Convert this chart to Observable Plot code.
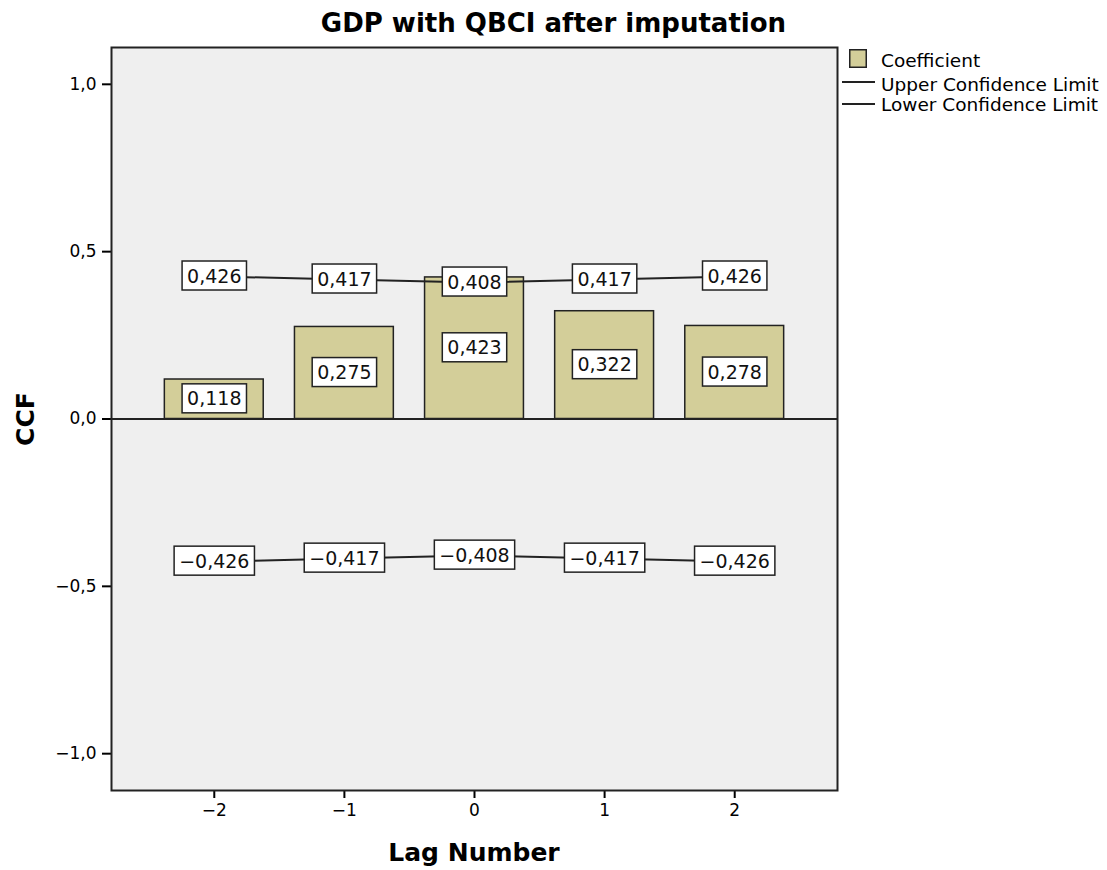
<!DOCTYPE html>
<html>
<head>
<meta charset="utf-8">
<script src="https://cdn.jsdelivr.net/npm/d3@7"></script>
<script src="https://cdn.jsdelivr.net/npm/@observablehq/plot@0.6"></script>
<style>
  body { margin: 0; background: #fff; }
  #wrap { position: relative; width: 1107px; height: 870px; font-family: "DejaVu Sans", sans-serif; color: #000; }
  #wrap > svg.chart { position: absolute; left: 0; top: 0; }
  .title { position: absolute; left: 0; top: 10px; width: 1107px; text-align: center; font-weight: bold; font-size: 26px; line-height: 26px; white-space: nowrap; }
  .ytitle { position: absolute; left: 25px; top: 419px; transform: translate(-50%, -50%) rotate(-90deg); font-weight: bold; font-size: 25px; line-height: 25px; white-space: nowrap; }
  .xtitle { position: absolute; left: 474px; top: 840px; transform: translateX(-50%); font-weight: bold; font-size: 25px; line-height: 25px; white-space: nowrap; }
  svg.legend { position: absolute; left: 0; top: 0; pointer-events: none; }
</style>
</head>
<body>
<div id="wrap"></div>
<script>
// ---- data ----
const lags = [-2, -1, 0, 1, 2];
const coefficient = [0.118, 0.275, 0.423, 0.322, 0.278];
const upperLimit = [0.426, 0.417, 0.408, 0.417, 0.426];
const lowerLimit = [-0.426, -0.417, -0.408, -0.417, -0.426];
const yTicks = [-1, -0.5, 0, 0.5, 1];
const xTicks = [-2, -1, 0, 1, 2];
const titleText = "GDP with QBCI after imputation";
const xTitle = "Lag Number";
const yTitle = "CCF";
const legendLabels = ["Coefficient", "Upper Confidence Limit", "Lower Confidence Limit"];

// ---- helpers ----
const fmtDec = (v, n) => v.toFixed(n).replace(".", ",").replace("-", "\u2212");
const fmtInt = v => String(v).replace("-", "\u2212");

const bars = lags.map((lag, i) => ({lag, value: coefficient[i]}));
const upper = lags.map((lag, i) => ({lag, value: upperLimit[i]}));
const lower = lags.map((lag, i) => ({lag, value: lowerLimit[i]}));
const labels = [
  ...upper.map(d => ({lag: d.lag, y: d.value, text: fmtDec(d.value, 3)})),
  ...bars.map(d => ({lag: d.lag, y: d.value / 2, text: fmtDec(d.value, 3)})),
  ...lower.map(d => ({lag: d.lag, y: d.value, text: fmtDec(d.value, 3)}))
];

const barHalf = 0.38;
const ink = "#222";

const wrap = document.getElementById("wrap");

const chart = Plot.plot({
  width: 1107,
  height: 870,
  marginLeft: 111,
  marginRight: 270,
  marginTop: 47,
  marginBottom: 80,
  style: {fontFamily: '"DejaVu Sans", sans-serif', fontSize: "17px", color: "#000", background: "transparent", overflow: "visible"},
  x: {domain: [-2.79, 2.79], ticks: xTicks, tickFormat: fmtInt, tickSize: 8, tickPadding: 5, label: null},
  y: {domain: [-1.11, 1.11], ticks: yTicks, tickFormat: v => fmtDec(v, 1), tickSize: 9, tickPadding: 6, label: null},
  marks: [
    Plot.frame({fill: "#efefef"}),
    Plot.rectY(bars, {x1: d => d.lag - barHalf, x2: d => d.lag + barHalf, y: "value", fill: "#d3ce99", stroke: ink, strokeWidth: 1.5}),
    Plot.ruleY([0], {stroke: ink, strokeWidth: 2}),
    Plot.line(upper, {x: "lag", y: "value", stroke: ink, strokeWidth: 2}),
    Plot.line(lower, {x: "lag", y: "value", stroke: ink, strokeWidth: 2}),
    Plot.text(labels, {x: "lag", y: "y", text: "text", fontSize: 19, fill: "#111"}),
    Plot.frame({stroke: ink, strokeWidth: 2})
  ]
});
chart.classList.add("chart");
wrap.appendChild(chart);

// thicker axis ticks
chart.querySelectorAll('g[aria-label$="tick"]').forEach(g => g.setAttribute("stroke-width", 2));

// label boxes behind the value labels
chart.querySelectorAll('g[aria-label="text"] text').forEach(t => {
  const b = t.getBBox();
  const r = document.createElementNS("http://www.w3.org/2000/svg", "rect");
  const padX = 5, padY = 3.5;
  r.setAttribute("x", b.x - padX);
  r.setAttribute("y", b.y - padY);
  r.setAttribute("width", b.width + 2 * padX);
  r.setAttribute("height", b.height + 2 * padY);
  r.setAttribute("fill", "#fff");
  r.setAttribute("stroke", ink);
  r.setAttribute("stroke-width", 1.5);
  const tr = t.getAttribute("transform");
  if (tr) r.setAttribute("transform", tr);
  t.parentNode.insertBefore(r, t);
});

// titles
const tt = document.createElement("div"); tt.className = "title"; tt.textContent = titleText; wrap.appendChild(tt);
const yt = document.createElement("div"); yt.className = "ytitle"; yt.textContent = yTitle; wrap.appendChild(yt);
const xt = document.createElement("div"); xt.className = "xtitle"; xt.textContent = xTitle; wrap.appendChild(xt);

// legend
const NS = "http://www.w3.org/2000/svg";
const lg = document.createElementNS(NS, "svg");
lg.setAttribute("class", "legend");
lg.setAttribute("width", 1107);
lg.setAttribute("height", 130);
const baselines = [67, 90.5, 111];
const lineYs = [null, 82, 104];
legendLabels.forEach((lab, i) => {
  if (i === 0) {
    const r = document.createElementNS(NS, "rect");
    r.setAttribute("x", 849.75); r.setAttribute("y", 49.75);
    r.setAttribute("width", 16.5); r.setAttribute("height", 17.5);
    r.setAttribute("fill", "#d3ce99"); r.setAttribute("stroke", ink); r.setAttribute("stroke-width", 1.5);
    lg.appendChild(r);
  } else {
    const l = document.createElementNS(NS, "line");
    l.setAttribute("x1", 842); l.setAttribute("x2", 875);
    l.setAttribute("y1", lineYs[i]); l.setAttribute("y2", lineYs[i]);
    l.setAttribute("stroke", ink); l.setAttribute("stroke-width", 2);
    lg.appendChild(l);
  }
  const t = document.createElementNS(NS, "text");
  t.setAttribute("x", 881); t.setAttribute("y", baselines[i]);
  t.setAttribute("font-family", '"DejaVu Sans", sans-serif');
  t.setAttribute("font-size", 18.5);
  t.setAttribute("fill", "#000");
  t.textContent = lab;
  lg.appendChild(t);
});
wrap.appendChild(lg);
</script>
</body>
</html>
